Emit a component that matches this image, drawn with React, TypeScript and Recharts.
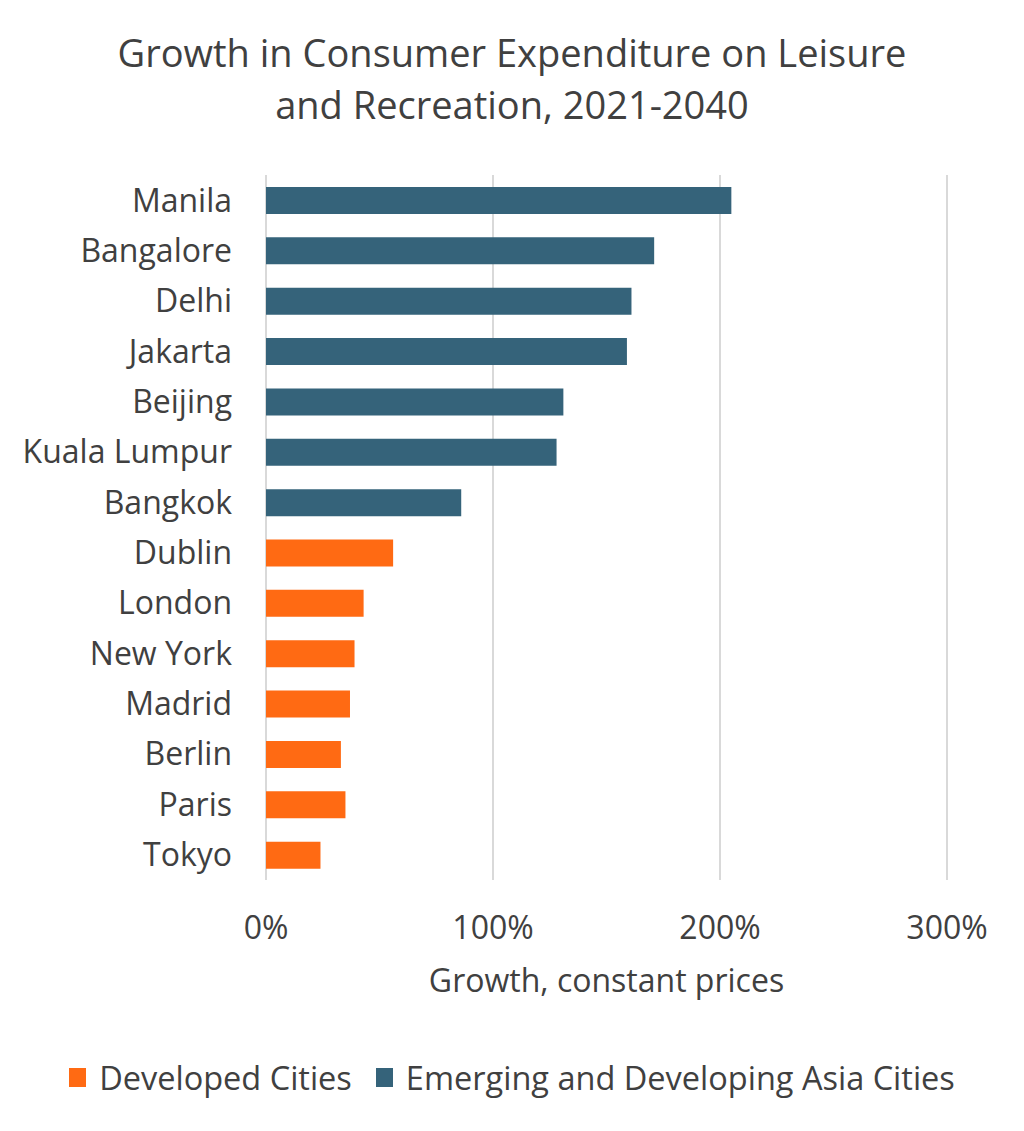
import React from "react";
import { BarChart, Bar, XAxis, YAxis, CartesianGrid, Legend } from "recharts";

const cities = ["Manila", "Bangalore ", "Delhi", "Jakarta", "Beijing", "Kuala Lumpur", "Bangkok", "Dublin", "London", "New York", "Madrid", "Berlin", "Paris", "Tokyo"];
const asiaGrowth = [205, 171, 161, 159, 131, 128, 86, null, null, null, null, null, null, null];
const developedGrowth = [null, null, null, null, null, null, null, 56, 43, 39, 37, 33, 35, 24];
const xTicks = [0, 100, 200, 300];

const titleLines = ["Growth in Consumer Expenditure on Leisure", "and Recreation, 2021-2040"];
const xLabel = "Growth, constant prices";
const seriesNames = { developed: "Developed Cities", asia: "Emerging and Developing Asia Cities" };

const ORANGE = "#FF6A13";
const BLUE = "#35637A";
const TEXT = "#404040";
const FONT = "'Open Sans', 'Noto Sans', sans-serif";

const data = cities.map((c, i) => ({ city: c, developed: developedGrowth[i], asia: asiaGrowth[i] }));

const LegendContent = () => (
  <div style={{ display: "flex", justifyContent: "center", alignItems: "center", height: 40, fontFamily: FONT, fontSize: 32.5, color: TEXT }}>
    <span style={{ display: "inline-block", width: 17, height: 19, background: ORANGE, marginRight: 13 }} />
    <span style={{ marginRight: 24 }}>{seriesNames.developed}</span>
    <span style={{ display: "inline-block", width: 17, height: 19, background: BLUE, marginRight: 13 }} />
    <span>{seriesNames.asia}</span>
  </div>
);

export default function App() {
  return (
    <div style={{ position: "absolute", left: 0, top: 0, width: 1024, height: 1131, background: "#fff" }}>
      <div style={{ position: "absolute", left: 0, top: 26, width: 1024, textAlign: "center", fontFamily: FONT, fontSize: 38, lineHeight: "52px", color: TEXT }}>
        {titleLines.map((l) => (
          <div key={l}>{l}</div>
        ))}
      </div>
      <BarChart
        width={1024}
        height={1131}
        data={data}
        layout="vertical"
        margin={{ top: 175, right: 77, bottom: 91, left: 0 }}
        barSize={27}
      >
        <CartesianGrid vertical horizontal={false} stroke="#d9d9d9" strokeWidth={2} />
        <XAxis
          type="number"
          domain={[0, 300]}
          ticks={xTicks}
          tickFormatter={(v) => `${v}%`}
          axisLine={false}
          tickLine={false}
          tickSize={0}
          tickMargin={36}
          height={120}
          tick={{ fill: TEXT, fontSize: 32, fontFamily: FONT }}
          label={{ value: xLabel, position: "insideBottom", offset: 8, fill: TEXT, fontSize: 32, fontFamily: FONT }}
        />
        <YAxis
          type="category"
          dataKey="city"
          width={266}
          axisLine={false}
          tickLine={false}
          tickSize={0}
          tickMargin={34}
          interval={0}
          tick={{ fill: TEXT, fontSize: 32, fontFamily: FONT }}
        />
        <Legend verticalAlign="bottom" content={<LegendContent />} wrapperStyle={{ top: 1057, left: 0, width: 1024 }} />
        <Bar dataKey="developed" name={seriesNames.developed} stackId="a" fill={ORANGE} isAnimationActive={false} />
        <Bar dataKey="asia" name={seriesNames.asia} stackId="a" fill={BLUE} isAnimationActive={false} />
      </BarChart>
    </div>
  );
}
